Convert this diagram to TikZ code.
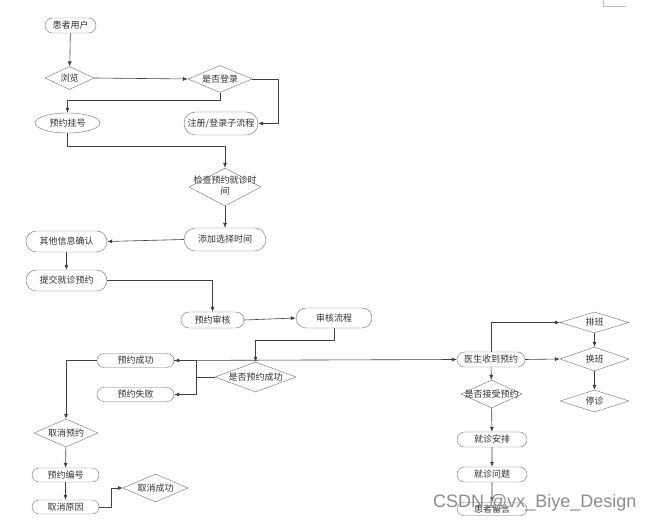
\documentclass[tikz,border=0pt]{standalone}
\usepackage{fontspec}
\setmainfont{Noto Sans CJK SC}
\newfontfamily\wmfont{Liberation Sans}
\usetikzlibrary{shapes.geometric,shapes.misc,arrows.meta}
\definecolor{edgegray}{HTML}{404040}
\definecolor{shapegray}{HTML}{6E6E6E}
\definecolor{textgray}{HTML}{303030}
\newcommand{\dtxt}[1]{\makebox[0pt]{#1}}
\tikzset{
  box/.style={draw=shapegray,rounded rectangle,inner sep=0pt,minimum height=15bp,
    font=\fontsize{9bp}{11bp}\selectfont,text=textgray},
  oval/.style={draw=shapegray,ellipse,inner sep=0pt,
    font=\fontsize{9bp}{11bp}\selectfont,text=textgray},
  dia/.style={draw=shapegray,diamond,inner sep=0pt,
    font=\fontsize{9bp}{11bp}\selectfont,text=textgray},
  link/.style={edgegray,->,line width=0.6bp},
}
\begin{document}
\begin{tikzpicture}[>={Latex[length=5bp,width=4bp]},line join=bevel,]
\useasboundingbox (0bp,0bp) rectangle (654bp,523bp);
%%
\node (user) at (70.5bp,497.5bp) [box,minimum width=51bp] {患者用户};
  \node (browse) at (69.5bp,445bp) [dia,minimum width=49bp,minimum height=23bp] {\dtxt{浏览}};
  \node (login) at (220bp,444bp) [dia,minimum width=64bp,minimum height=27bp] {\dtxt{是否登录}};
  \node (book) at (67.5bp,400bp) [oval,minimum width=65bp,minimum height=20bp] {预约挂号};
  \node (signup) at (221bp,399.5bp) [box,minimum width=74bp,minimum height=23bp] {注册/登录子流程};
  \node (check) at (225bp,336bp) [dia,minimum width=72bp,minimum height=38bp] {\dtxt{\begin{tabular}{@{}c@{}}检查预约就诊时\\间\end{tabular}}};
  \node (addtime) at (225bp,283.5bp) [box,minimum width=82bp,minimum height=23bp] {添加选择时间};
  \node (confirm) at (66.5bp,281.5bp) [box,minimum width=81bp,minimum height=21bp] {其他信息确认};
  \node (submit) at (66.5bp,242.5bp) [box,minimum width=81bp,minimum height=21bp] {提交就诊预约};
  \node (audit) at (212.5bp,203bp) [box,minimum width=63bp,minimum height=16bp] {预约审核};
  \node (auditflow) at (334bp,205bp) [box,minimum width=76bp,minimum height=20bp] {审核流程};
  \node (isok) at (255.5bp,146bp) [dia,minimum width=81bp,minimum height=30bp] {\dtxt{是否预约成功}};
  \node (okbox) at (135.5bp,162.5bp) [box,minimum width=77bp,minimum height=14bp] {预约成功};
  \node (failbox) at (135.5bp,128.5bp) [box,minimum width=77bp,minimum height=14bp] {预约失败};
  \node (cancel) at (66bp,90bp) [dia,minimum width=64bp,minimum height=28bp] {\dtxt{取消预约}};
  \node (number) at (65.5bp,48bp) [box,minimum width=67bp,minimum height=14bp] {预约编号};
  \node (reason) at (65.5bp,16bp) [box,minimum width=67bp,minimum height=14bp] {取消原因};
  \node (cancelok) at (155.5bp,35bp) [dia,minimum width=65bp,minimum height=28bp] {\dtxt{取消成功}};
  \node (doctor) at (491bp,163.5bp) [box,minimum width=68bp,minimum height=15bp] {医生收到预约};
  \node (shift) at (594.5bp,200.5bp) [dia,minimum width=69bp,minimum height=21bp] {\dtxt{排班}};
  \node (swap) at (594.5bp,164bp) [dia,minimum width=69bp,minimum height=24bp] {\dtxt{换班}};
  \node (stop) at (594.5bp,122bp) [dia,minimum width=69bp,minimum height=22bp] {\dtxt{停诊}};
  \node (accept) at (491.5bp,129bp) [dia,minimum width=61bp,minimum height=28bp] {\dtxt{是否接受预约}};
  \node (arrange) at (492bp,83.5bp) [box,minimum width=70bp,minimum height=15bp] {就诊安排};
  \node (question) at (492bp,48.5bp) [box,minimum width=70bp,minimum height=15bp] {就诊问题};
  \node (message) at (492bp,14bp) [box,minimum width=70bp,minimum height=13bp] {患者留言};
%
\coordinate (loginturn) at (278bp,444bp);
  \coordinate (okturn) at (196bp,146bp);
  \draw [link] (user) -- (browse);
  \draw [link] (browse.east) -- (login.west);
  \draw [link] (login.east) -- (loginturn) |- (signup.east);
  \draw [link] (login.south) -- ++(0bp,-8bp) -| (book.north);
  \draw [link] (book.south) -- ++(0bp,-13bp) -| (check.north);
  \draw [link] (check.south) -- (addtime.north);
  \draw [link] (addtime.west) -- (confirm.east);
  \draw [link] (confirm) -- (submit);
  \draw [link] (submit.east) -| (audit.north);
  \draw [link] (audit.east) -- (auditflow.west);
  \draw [link] (auditflow.south) -- ++(0bp,-12bp) -| (isok.north);
  \draw [link] (isok.west) -- (okturn) |- (okbox.east);
  \draw [link] (isok.west) -- (okturn) |- (failbox.east);
  \draw [link] (okbox.east) -- (doctor.west);
  \draw [link] (okbox.west) -| (cancel.north);
  \draw [link] (cancel) -- (number);
  \draw [link] (number) -- (reason);
  \draw [link] (reason.east) -- ++(12bp,0bp) |- (cancelok.west);
  \draw [link] (doctor.north) |- (shift.west);
  \draw [link] (doctor.east) -- (swap.west);
  \draw [link] (shift) -- (swap);
  \draw [link] (swap) -- (stop);
  \draw [link] (doctor) -- (accept);
  \draw [link] (accept) -- (arrange);
  \draw [link] (arrange) -- (question);
  \draw [link] (question) -- (message);
%
\draw [black!25,line width=0.8bp] (603bp,523bp) -- (603bp,517bp) -- (626bp,517bp);
  \node (mark) at (433bp,16bp) [anchor=base west,inner sep=0pt,text=black!45,font=\wmfont\fontsize{18bp}{20bp}\selectfont] {CSDN @vx\_Biye\_Design};
%
\end{tikzpicture}
\end{document}
